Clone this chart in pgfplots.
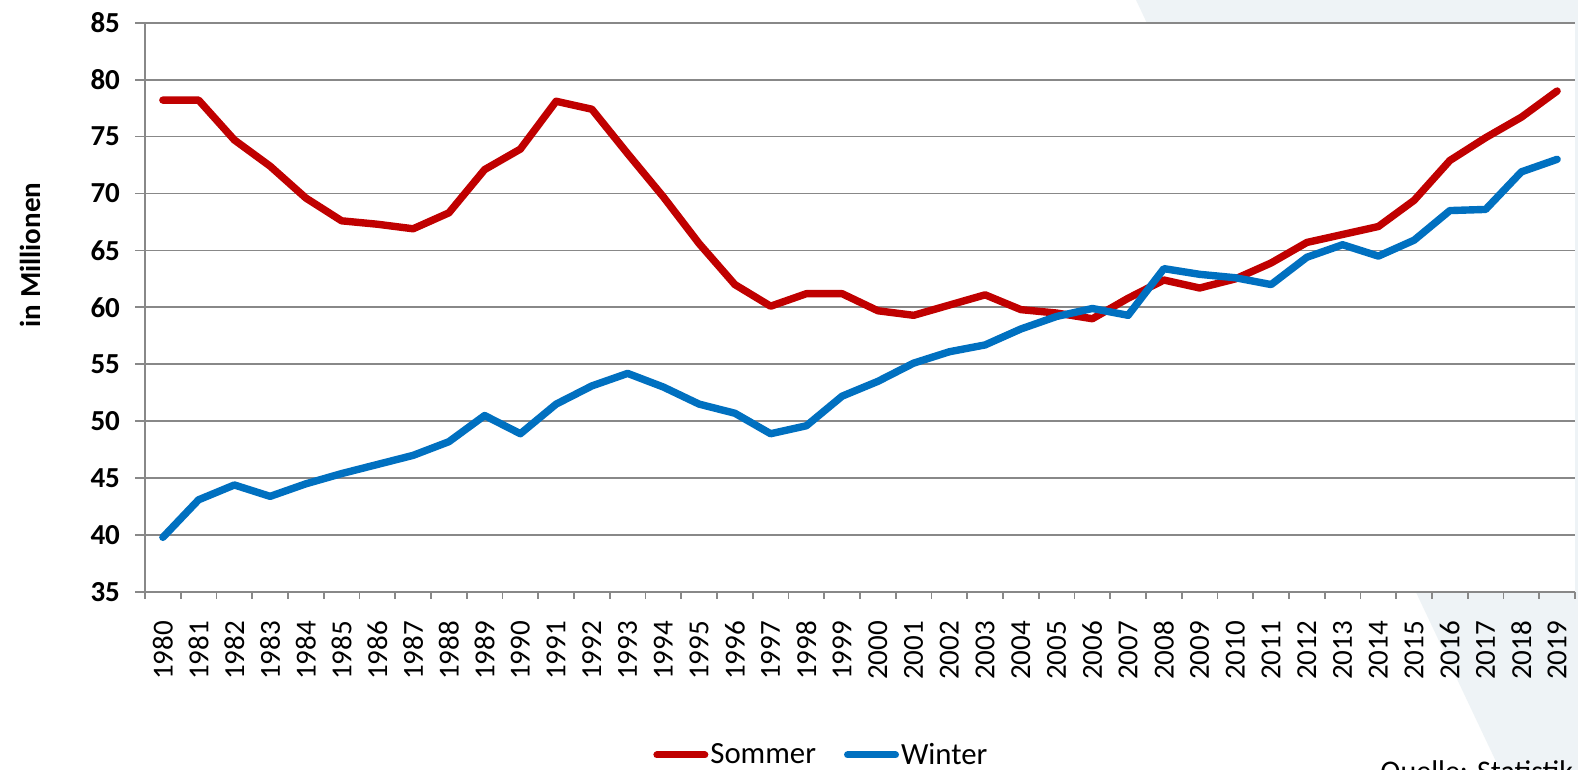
\documentclass[border=0pt]{standalone}
\usepackage{pgfplots}
\pgfplotsset{compat=1.18}
\usepackage{fontspec}
\setmainfont{Carlito}
\definecolor{sommer}{RGB}{192,0,0}
\definecolor{winter}{RGB}{0,112,192}
\definecolor{gridc}{RGB}{136,136,136}
\definecolor{bgshade}{RGB}{238,243,246}
\begin{document}
\begin{tikzpicture}
\clip (0pt,0pt) rectangle (789pt,385pt);
\fill[white] (0pt,0pt) rectangle (789pt,385pt);
\fill[bgshade] (568pt,385pt) -- (789pt,385pt) -- (789pt,0pt) -- (750pt,0pt) -- cycle;
\begin{axis}[
  at={(72.5pt,89pt)}, anchor=south west,
  scale only axis, width=715pt, height=284.65pt,
  xmin=1979.5, xmax=2019.5, ymin=35, ymax=85,
  axis background/.style={fill=white},
  axis lines*=left,
  axis line style={gridc, line width=0.9pt},
  ytick={35,40,...,85},
  xtick={1980,...,2019},
  minor xtick={1979.5,1980.5,...,2019.5},
  tick align=outside,
  major tick length=5pt,
  minor tick length=3.5pt,
  major x tick style={draw=none},
  minor x tick style={gridc, line width=0.9pt},
  major y tick style={gridc, line width=0.9pt},
  ymajorgrids,
  major grid style={gridc, line width=0.9pt},
  /pgf/number format/.cd, 1000 sep={}, assume math mode=true, /pgfplots/.cd,
  xticklabel style={yshift=-6pt, rotate=90, anchor=east, font=\fontsize{14.5}{17}\selectfont},
  yticklabel style={font=\bfseries\fontsize{14.5}{17}\selectfont, xshift=-4pt},
  ylabel={in Millionen},
  ylabel style={at={(rel axis cs:-0.0804,0.592)}, anchor=center, font=\bfseries\fontsize{14.5}{17}\selectfont},
  legend columns=2,
  legend style={at={(rel axis cs:0.473,-0.2863)}, anchor=center, draw=none, fill=none,
    font=\fontsize{15.4}{18}\selectfont,
    nodes={inner xsep=1pt},
    /tikz/every even column/.append style={column sep=13pt}},
  legend image code/.code={\draw[#1, line width=3.5pt, line cap=round] (1.75pt,0pt) -- (25.75pt,0pt);},
  clip=false,
]
\addplot[sommer, line width=3.7pt, line cap=round, line join=round] coordinates {
(1980,78.2) (1981,78.2) (1982,74.7) (1983,72.4) (1984,69.6) (1985,67.6) (1986,67.3) (1987,66.9)
(1988,68.3) (1989,72.1) (1990,73.9) (1991,78.1) (1992,77.4) (1993,73.5) (1994,69.7) (1995,65.6)
(1996,62.0) (1997,60.1) (1998,61.2) (1999,61.2) (2000,59.7) (2001,59.3) (2002,60.2) (2003,61.1)
(2004,59.8) (2005,59.5) (2006,59.0) (2007,60.8) (2008,62.4) (2009,61.7) (2010,62.5) (2011,63.9)
(2012,65.7) (2013,66.4) (2014,67.1) (2015,69.4) (2016,72.9) (2017,74.9) (2018,76.7) (2019,79.0)
};
\addlegendentry{Sommer}
\addplot[winter, line width=3.7pt, line cap=round, line join=round] coordinates {
(1980,39.8) (1981,43.1) (1982,44.4) (1983,43.4) (1984,44.5) (1985,45.4) (1986,46.2) (1987,47.0)
(1988,48.2) (1989,50.5) (1990,48.9) (1991,51.5) (1992,53.1) (1993,54.2) (1994,53.0) (1995,51.5)
(1996,50.7) (1997,48.9) (1998,49.6) (1999,52.2) (2000,53.5) (2001,55.1) (2002,56.1) (2003,56.7)
(2004,58.1) (2005,59.2) (2006,59.9) (2007,59.3) (2008,63.4) (2009,62.9) (2010,62.6) (2011,62.0)
(2012,64.4) (2013,65.5) (2014,64.5) (2015,65.9) (2016,68.5) (2017,68.6) (2018,71.9) (2019,73.0)
};
\addlegendentry{Winter}
\end{axis}
\node[anchor=base west, font=\fontsize{15}{18}\selectfont, inner sep=0pt] at (690pt,-5.5pt) {Quelle: Statistik Austria};
\end{tikzpicture}
\end{document}
